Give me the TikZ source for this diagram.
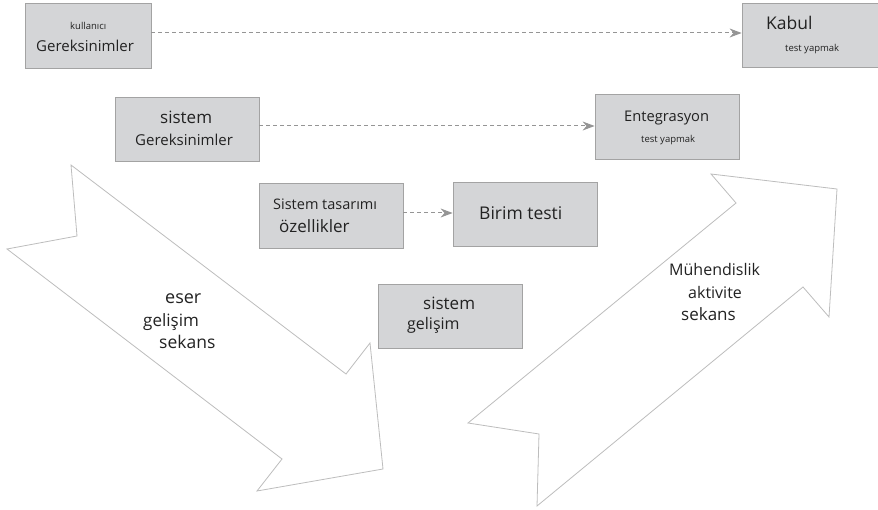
\documentclass[tikz,border=0pt]{standalone}
\usepackage{fontspec}
\setmainfont{Open Sans}
\usetikzlibrary{calc,arrows.meta}
\definecolor{boxgray}{HTML}{D4D5D7}
\definecolor{boxline}{HTML}{A3A3A3}
\definecolor{linkgray}{HTML}{959595}
\definecolor{bigline}{HTML}{BDBDBD}
\definecolor{ink}{HTML}{222222}
\tikzset{
	% ---- default
	every node/.style={inner sep=0pt, text=ink},
	every picture/.style={x=1pt, y=-1pt},
	% ---- custom
	box/.style={draw=boxline, fill=boxgray, line width=0.8pt, rectangle},
	link/.style={draw=linkgray, dash pattern=on 4pt off 3pt, line width=1pt, -{Stealth[length=12pt, width=9pt]}},
	bigarrow/.style={draw=bigline, fill=white, line width=0.8pt, line join=miter},
	txt/.style={anchor=base west, font=\fontsize{#1}{#1}\selectfont},
}

\begin{document}
\begin{tikzpicture}

% frame %{{{2

	\clip (0,0) rectangle (878,510);

% big arrows %{{{2

	\draw[bigarrow] (71,165) -- (77,236) -- (7,249) -- (282,459) -- (257,491)
		-- (383,469) -- (370,343) -- (346,374) -- cycle;

	\draw[bigarrow] (711,174) -- (837,189) -- (829,317) -- (803,287) -- (537,506)
		-- (539,434) -- (468,423) -- (736,203) -- cycle;

% boxes %{{{2

	\node[box, minimum width=126pt, minimum height=65pt] (kg) at (88,35.5) {};
	\node[box, minimum width=144pt, minimum height=64pt] (sg) at (187,129) {};
	\node[box, minimum width=144pt, minimum height=64pt] (kt) at (814,35) {};
	\node[box, minimum width=144pt, minimum height=65pt] (ei) at (667,126.5) {};
	\node[box, minimum width=144pt, minimum height=65pt] (st) at (331,215.5) {};
	\node[box, minimum width=144pt, minimum height=64pt] (bt) at (525,214) {};
	\node[box, minimum width=144pt, minimum height=64pt] (sd) at (450,316) {};

% dashed links %{{{2

	\draw[link] ([yshift=2.5pt]kg.east) -- ([yshift=2.5pt]kg.east -| kt.west);
	\draw[link] ([yshift=3pt]sg.east) -- ([yshift=3pt]sg.east -| ei.west);
	\draw[link] ([yshift=2.5pt]st.east) -- ([yshift=2.5pt]st.east -| bt.west);

% box labels %{{{2

	\node[txt=9.5] (kgtop) at (70,29.5) {kullanıcı};
	\node[txt=15] (kgbot) at (36,52) {Gereksinimler};

	\node[txt=17] (sgtop) at (160,124) {sistem};
	\node[txt=15] (sgbot) at (135,146) {Gereksinimler};

	\node[txt=17.5] (kttop) at (766,29.5) {Kabul};
	\node[txt=9.5] (ktbot) at (785,52) {test yapmak};

	\node[txt=14.7] (eitop) at (624,121.7) {Entegrasyon};
	\node[txt=9.5] (eibot) at (641,142.3) {test yapmak};

	\node[txt=14.5] (sttop) at (273,209.3) {Sistem tasarımı};
	\node[txt=17] (stbot) at (279,232.3) {özellikler};

	\node[txt=17.5] (btmid) at (479,220) {Birim testi};

	\node[txt=17] (sdtop) at (423,309.3) {sistem};
	\node[txt=16] (sdbot) at (407,329.3) {gelişim};

% arrow labels %{{{2

	\node[txt=18] (lefta) at (165,304) {eser};
	\node[txt=17] (leftb) at (143,327) {gelişim};
	\node[txt=17.5] (leftc) at (159,349) {sekans};

	\node[txt=16] (righta) at (669,276) {Mühendislik};
	\node[txt=16] (rightb) at (688,298.7) {aktivite};
	\node[txt=17] (rightc) at (681,320.7) {sekans};

% closing %{{{2

\end{tikzpicture}
\end{document}
